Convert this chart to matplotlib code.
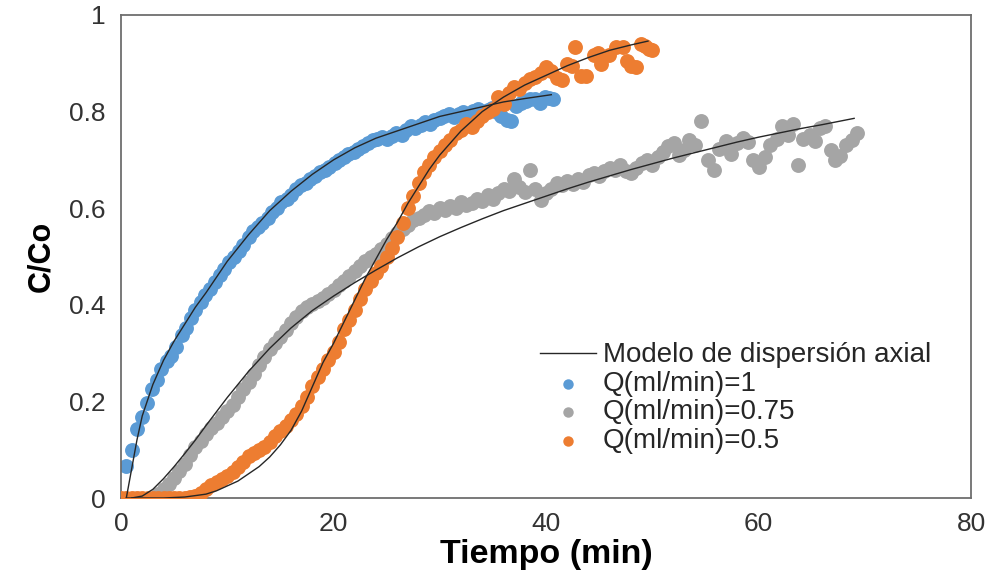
import matplotlib
matplotlib.use("Agg")
import matplotlib.pyplot as plt

# ---------------- data ----------------
t_q1 = [0.5, 1.0, 1.5, 2.0, 2.4, 2.9, 3.4, 3.8, 4.3, 4.7, 5.2, 5.7, 6.1, 6.6, 7.0, 7.5, 7.9, 8.4, 8.8, 9.3,
        9.7, 10.2, 10.6, 11.1, 11.5, 12.0, 12.4, 12.9, 13.3, 13.8, 14.2, 14.7, 15.1, 15.6, 16.0, 16.5, 16.9,
        17.4, 17.8, 18.3, 18.7, 19.2, 19.6, 20.1, 20.5, 21.0, 21.4, 21.9, 22.3, 22.8, 23.2, 23.7, 24.1, 24.6,
        25.0, 25.5, 25.9, 26.4, 26.8, 27.3, 27.7, 28.2, 28.6, 29.1, 29.5, 30.0, 30.4, 30.9, 31.3, 31.8, 32.2,
        32.7, 33.1, 33.6, 34.0, 34.5, 34.9, 35.4, 35.8, 36.3, 36.7, 37.2, 37.6, 38.1, 38.5, 39.0, 39.4, 39.9,
        40.3, 40.7]
c_q1 = [0.066, 0.100, 0.143, 0.167, 0.196, 0.226, 0.245, 0.268, 0.283, 0.295, 0.312, 0.338, 0.352, 0.372,
        0.389, 0.405, 0.420, 0.433, 0.447, 0.462, 0.475, 0.488, 0.500, 0.512, 0.524, 0.540, 0.552, 0.561,
        0.570, 0.580, 0.592, 0.600, 0.612, 0.620, 0.628, 0.640, 0.648, 0.652, 0.660, 0.667, 0.675, 0.680,
        0.686, 0.693, 0.700, 0.706, 0.712, 0.716, 0.722, 0.728, 0.736, 0.742, 0.744, 0.748, 0.744, 0.750,
        0.756, 0.752, 0.762, 0.770, 0.766, 0.772, 0.778, 0.774, 0.782, 0.786, 0.790, 0.794, 0.788, 0.796,
        0.800, 0.794, 0.802, 0.806, 0.800, 0.804, 0.808, 0.800, 0.790, 0.782, 0.780, 0.812, 0.818, 0.822,
        0.826, 0.826, 0.818, 0.830, 0.828, 0.826]

t_q075 = [3.5, 4.0, 4.5, 5.0, 5.5, 6.0, 6.5, 7.0, 7.5, 8.0, 8.5, 9.0, 9.5, 10.0, 10.5, 11.0, 11.5, 12.0,
          12.5, 13.0, 13.5, 14.0, 14.5, 15.0, 15.5, 16.0, 16.5, 17.0, 17.5, 18.0, 18.5, 19.0, 19.5, 20.0,
          20.5, 21.0, 21.5, 22.0, 22.5, 23.0, 23.5, 24.0, 24.5, 25.0, 25.5, 26.0, 26.5, 27.0, 27.5, 28.0,
          28.5, 29.0, 29.5, 30.0, 30.5, 31.0, 31.5, 32.0, 32.5, 33.0, 33.5, 34.0, 34.5, 35.0, 35.5, 36.0,
          36.5, 37.0, 37.5, 38.0, 38.5, 39.0, 39.5, 40.0, 40.5, 41.0, 41.5, 42.0, 42.5, 43.0, 43.5, 44.0,
          44.5, 45.0, 45.5, 46.0, 46.5, 47.0, 47.5, 48.0, 48.5, 49.0, 49.5, 50.0, 50.5, 51.0, 51.5, 52.0,
          52.5, 53.0, 53.5, 54.0, 54.6, 55.2, 55.8, 56.3, 56.9, 57.4, 58.0, 58.5, 59.0, 59.5, 60.0, 60.6,
          61.1, 61.7, 62.2, 62.8, 63.2, 63.7, 64.2, 64.8, 65.3, 65.8, 66.3, 66.8, 67.2, 67.7, 68.2, 68.8,
          69.3]
c_q075 = [0.008, 0.018, 0.030, 0.042, 0.055, 0.070, 0.088, 0.105, 0.118, 0.132, 0.145, 0.156, 0.168,
          0.180, 0.192, 0.210, 0.225, 0.240, 0.256, 0.275, 0.292, 0.308, 0.320, 0.334, 0.348, 0.362, 0.375,
          0.388, 0.396, 0.402, 0.408, 0.415, 0.422, 0.430, 0.440, 0.450, 0.460, 0.470, 0.480, 0.490, 0.498,
          0.505, 0.515, 0.525, 0.538, 0.548, 0.556, 0.566, 0.575, 0.580, 0.586, 0.595, 0.590, 0.600, 0.596,
          0.604, 0.600, 0.612, 0.606, 0.610, 0.620, 0.614, 0.628, 0.620, 0.632, 0.640, 0.636, 0.660, 0.644,
          0.634, 0.680, 0.640, 0.617, 0.632, 0.640, 0.652, 0.648, 0.656, 0.650, 0.660, 0.655, 0.668, 0.672,
          0.666, 0.678, 0.684, 0.680, 0.690, 0.676, 0.672, 0.684, 0.694, 0.700, 0.690, 0.706, 0.716, 0.728,
          0.736, 0.710, 0.720, 0.742, 0.730, 0.780, 0.700, 0.680, 0.722, 0.740, 0.712, 0.734, 0.746, 0.738,
          0.700, 0.686, 0.706, 0.730, 0.744, 0.770, 0.752, 0.774, 0.690, 0.744, 0.752, 0.740, 0.766, 0.770,
          0.720, 0.700, 0.708, 0.730, 0.742, 0.756]

t_q05 = [0.0, 0.5, 1.0, 1.5, 2.0, 2.5, 3.0, 3.5, 4.0, 4.5, 5.0, 5.5, 6.0, 6.5, 7.0, 7.5, 8.0, 8.5, 9.0,
         9.5, 10.0, 10.5, 11.0, 11.5, 12.0, 12.5, 13.0, 13.5, 14.0, 14.5, 15.0, 15.5, 16.0, 16.5, 17.0,
         17.5, 18.0, 18.5, 19.0, 19.5, 20.0, 20.5, 21.0, 21.5, 22.0, 22.5, 23.0, 23.5, 24.0, 24.5, 25.0,
         25.5, 26.0, 26.5, 27.0, 27.5, 28.0, 28.5, 29.0, 29.5, 30.0, 30.5, 31.0, 31.5, 32.0, 32.5, 33.0,
         33.5, 34.0, 34.5, 35.0, 35.5, 36.0, 36.5, 37.0, 37.5, 38.0, 38.5, 39.0, 39.5, 40.0, 40.5, 41.0,
         41.5, 42.0, 42.4, 42.7, 43.3, 43.8, 44.5, 44.9, 45.2, 45.9, 46.6, 47.2, 47.6, 48.0, 48.5, 48.9,
         49.3, 49.7, 50.0]
c_q05 = [0.0, 0.0, 0.0, 0.0, 0.0, 0.0, 0.0, 0.0, 0.0, 0.0, 0.0, 0.0, 0.0, 0.002, 0.005, 0.010, 0.018,
         0.026, 0.034, 0.040, 0.046, 0.054, 0.064, 0.074, 0.086, 0.094, 0.100, 0.106, 0.116, 0.128, 0.139,
         0.150, 0.162, 0.174, 0.190, 0.210, 0.232, 0.250, 0.268, 0.285, 0.302, 0.322, 0.350, 0.368, 0.390,
         0.412, 0.432, 0.450, 0.466, 0.480, 0.500, 0.518, 0.540, 0.570, 0.600, 0.625, 0.652, 0.675, 0.690,
         0.705, 0.718, 0.730, 0.742, 0.755, 0.762, 0.775, 0.768, 0.780, 0.790, 0.800, 0.806, 0.830, 0.815,
         0.838, 0.850, 0.846, 0.860, 0.868, 0.872, 0.880, 0.892, 0.885, 0.870, 0.866, 0.898, 0.895, 0.934,
         0.874, 0.874, 0.918, 0.922, 0.898, 0.918, 0.933, 0.933, 0.905, 0.895, 0.893, 0.940, 0.935, 0.930,
         0.928]

# axial dispersion model curves
tm_q1 = [0.5, 1.0, 1.5, 2.0, 3.0, 4.0, 5.0, 6.0, 7.0, 8.0, 10.0, 12.0, 14.0, 16.0, 18.0, 20.0, 22.0,
         24.0, 26.0, 28.0, 30.0, 32.0, 34.0, 36.0, 38.0, 40.5]
cm_q1 = [0.0, 0.06, 0.12, 0.17, 0.235, 0.285, 0.325, 0.36, 0.395, 0.425, 0.49, 0.545, 0.595, 0.635,
         0.67, 0.70, 0.725, 0.745, 0.76, 0.775, 0.79, 0.80, 0.81, 0.82, 0.827, 0.835]

tm_q075 = [1.0, 2.0, 3.0, 4.0, 5.0, 6.0, 7.0, 8.0, 10.0, 12.0, 14.0, 16.0, 18.0, 20.0, 22.0, 24.0, 26.0,
           28.0, 30.0, 32.0, 34.0, 36.0, 38.0, 40.0, 42.0, 44.0, 46.0, 48.0, 50.0, 52.0, 54.0, 56.0, 58.0,
           60.0, 62.0, 64.0, 66.0, 69.0]
cm_q075 = [0.0, 0.004, 0.018, 0.04, 0.065, 0.092, 0.12, 0.15, 0.208, 0.262, 0.31, 0.352, 0.388, 0.418,
           0.446, 0.472, 0.497, 0.52, 0.541, 0.56, 0.578, 0.595, 0.61, 0.625, 0.64, 0.654, 0.667, 0.68,
           0.692, 0.704, 0.715, 0.726, 0.737, 0.747, 0.756, 0.765, 0.773, 0.786]

tm_q05 = [0.5, 4.0, 6.0, 8.0, 9.0, 10.0, 11.0, 12.0, 13.0, 14.0, 15.0, 16.0, 17.0, 18.0, 19.0, 20.0,
          21.0, 22.0, 23.0, 24.0, 25.0, 26.0, 27.0, 28.0, 29.0, 30.0, 31.0, 32.0, 33.0, 34.0, 35.0, 36.0,
          38.0, 40.0, 42.0, 44.0, 46.0, 48.0, 49.6]
cm_q05 = [0.0, 0.0, 0.002, 0.008, 0.015, 0.025, 0.035, 0.05, 0.065, 0.085, 0.11, 0.14, 0.18, 0.23,
          0.28, 0.32, 0.365, 0.41, 0.455, 0.495, 0.535, 0.57, 0.61, 0.645, 0.68, 0.71, 0.735, 0.76, 0.78,
          0.80, 0.815, 0.83, 0.855, 0.875, 0.895, 0.912, 0.927, 0.938, 0.946]

x_ticks = [0, 20, 40, 60, 80]
y_ticks = [0, 0.2, 0.4, 0.6, 0.8, 1.0]
y_tick_labels = ["0", "0.2", "0.4", "0.6", "0.8", "1"]

# ---------------- figure ----------------
plt.rcParams['font.family'] = ['Liberation Sans', 'DejaVu Sans']

fig = plt.figure(figsize=(9.93, 5.77), dpi=100)
ax = fig.add_axes([121 / 993, 1 - 498 / 577, 850 / 993, 483 / 577])

blue = '#5B9BD5'
gray = '#A5A5A5'
orange = '#ED7D31'
line_col = '#262626'
ms = 115

ax.scatter(t_q075, c_q075, s=ms, color=gray, linewidths=0, zorder=2, label='Q(ml/min)=0.75')
ax.scatter(t_q05, c_q05, s=ms, color=orange, linewidths=0, zorder=3, label='Q(ml/min)=0.5')
ax.scatter(t_q1, c_q1, s=ms, color=blue, linewidths=0, zorder=2, label='Q(ml/min)=1')

ax.plot(tm_q1, cm_q1, color=line_col, lw=1.0, zorder=4, label='Modelo de dispersión axial')
ax.plot(tm_q075, cm_q075, color=line_col, lw=1.0, zorder=4)
ax.plot(tm_q05, cm_q05, color=line_col, lw=1.0, zorder=4)

ax.set_xlim(0, 80)
ax.set_ylim(0, 1)
ax.set_xticks(x_ticks)
ax.set_xticklabels([str(v) for v in x_ticks])
ax.set_yticks(y_ticks)
ax.set_yticklabels(y_tick_labels)
ax.tick_params(axis='both', length=0, labelsize=19, labelcolor='#333333')
ax.tick_params(axis='y', pad=11)
ax.tick_params(axis='x', pad=10)

for s in ax.spines.values():
    s.set_color('#6e6e6e')
    s.set_linewidth(1.3)

ax.set_xlabel('Tiempo (min)', fontsize=24.5, fontweight='bold', labelpad=2)
ax.set_ylabel('C/Co', fontsize=22, fontweight='bold', labelpad=9)

handles, labels = ax.get_legend_handles_labels()
order = ['Modelo de dispersión axial', 'Q(ml/min)=1', 'Q(ml/min)=0.75', 'Q(ml/min)=0.5']
hmap = dict(zip(labels, handles))
leg = ax.legend([hmap[k] for k in order], order, loc='upper left',
                bbox_to_anchor=(0.493, 0.322), frameon=False, fontsize=20,
                labelspacing=0.09, handlelength=2.0, handletextpad=0.25,
                borderpad=0, borderaxespad=0, markerscale=0.7)
for txt in leg.get_texts():
    txt.set_color('#262626')

fig.savefig('out.png', dpi=100)
